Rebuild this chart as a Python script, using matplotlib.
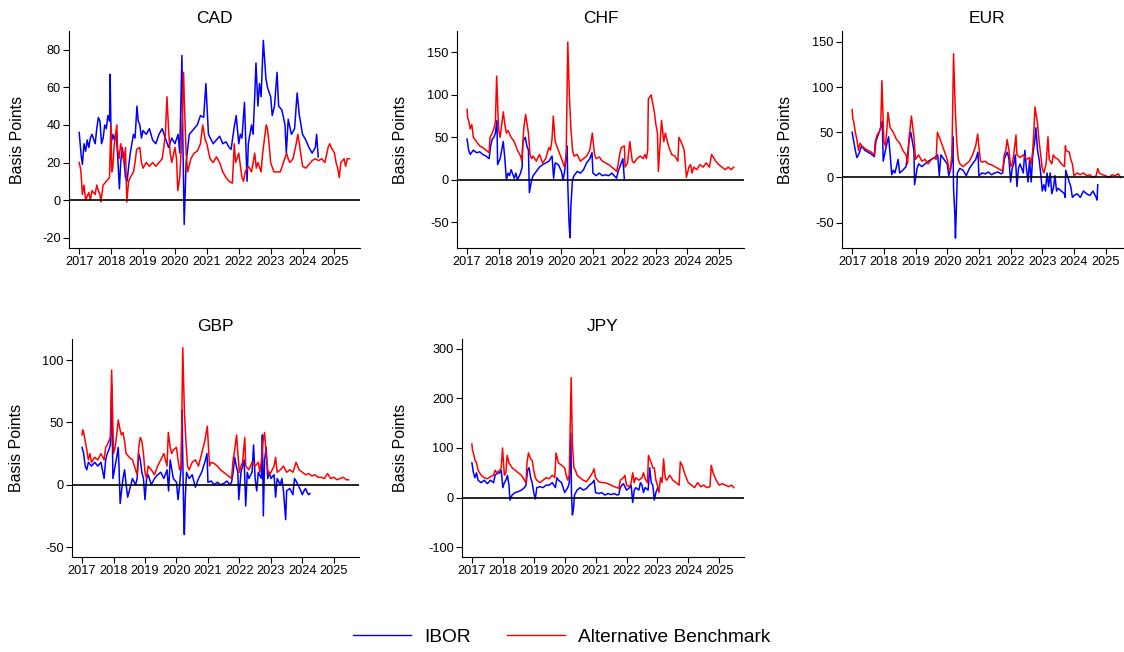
import matplotlib
matplotlib.use("Agg")
import matplotlib.pyplot as plt
from matplotlib.lines import Line2D

plt.rcParams['font.family'] = ['Liberation Sans', 'DejaVu Sans']
plt.rcParams['axes.unicode_minus'] = False

# ---------- DATA (decimal years, basis points) ----------
cad_ibor_t = [2017.0, 2017.03, 2017.06, 2017.1, 2017.15, 2017.2, 2017.25, 2017.3, 2017.35, 2017.4, 2017.5,
              2017.55, 2017.6, 2017.65, 2017.7, 2017.75, 2017.8, 2017.85, 2017.9, 2017.95, 2017.97, 2018.0,
              2018.05, 2018.1, 2018.15, 2018.2, 2018.26, 2018.3, 2018.35, 2018.4, 2018.45, 2018.5, 2018.55,
              2018.6, 2018.7, 2018.75, 2018.81, 2018.85, 2018.9, 2018.95, 2019.0, 2019.1, 2019.2, 2019.3,
              2019.4, 2019.5, 2019.6, 2019.7, 2019.8, 2019.9, 2020.0, 2020.1, 2020.15, 2020.22, 2020.25,
              2020.29, 2020.35, 2020.45, 2020.6, 2020.7, 2020.8, 2020.9, 2020.97, 2021.05, 2021.2, 2021.3,
              2021.4, 2021.5, 2021.6, 2021.7, 2021.76, 2021.85, 2021.92, 2022.0, 2022.05, 2022.1, 2022.18,
              2022.26, 2022.3, 2022.4, 2022.45, 2022.5, 2022.54, 2022.6, 2022.65, 2022.7, 2022.77, 2022.85,
              2022.9, 2023.0, 2023.05, 2023.12, 2023.2, 2023.25, 2023.35, 2023.45, 2023.49, 2023.55, 2023.65,
              2023.75, 2023.83, 2023.9, 2024.0, 2024.1, 2024.2, 2024.3, 2024.4, 2024.44, 2024.49]
cad_ibor_v = [36, 30, 24, 19, 30, 26, 32, 28, 33, 35, 30,
              38, 44, 42, 30, 33, 40, 38, 45, 42, 67, 30,
              35, 32, 36, 25, 6, 20, 28, 22, 12, 10, 18,
              25, 35, 33, 50, 42, 40, 33, 37, 35, 38, 32,
              30, 35, 38, 33, 28, 33, 30, 35, 25, 77, 30,
              -13, 20, 35, 38, 40, 45, 44, 62, 35, 30, 32,
              34, 30, 31, 28, 27, 38, 45, 30, 35, 33, 52,
              10, 30, 40, 35, 55, 73, 50, 62, 55, 85, 65,
              60, 55, 45, 50, 68, 50, 48, 40, 25, 43, 35,
              38, 57, 45, 35, 32, 28, 25, 28, 35, 23]

cad_alt_t = [2017.0, 2017.05, 2017.1, 2017.15, 2017.2, 2017.3, 2017.35, 2017.4, 2017.5, 2017.55, 2017.6,
             2017.65, 2017.68, 2017.75, 2017.85, 2017.95, 2017.99, 2018.02, 2018.05, 2018.1, 2018.18, 2018.2,
             2018.25, 2018.3, 2018.35, 2018.4, 2018.45, 2018.49, 2018.55, 2018.6, 2018.7, 2018.75, 2018.8,
             2018.9, 2018.95, 2019.0, 2019.1, 2019.2, 2019.3, 2019.4, 2019.5, 2019.6, 2019.65, 2019.7,
             2019.75, 2019.8, 2019.85, 2019.9, 2020.0, 2020.05, 2020.09, 2020.15, 2020.2, 2020.27, 2020.3,
             2020.35, 2020.4, 2020.5, 2020.6, 2020.7, 2020.8, 2020.87, 2020.95, 2021.0, 2021.1, 2021.2,
             2021.3, 2021.4, 2021.5, 2021.6, 2021.7, 2021.8, 2021.86, 2021.9, 2022.0, 2022.1, 2022.15,
             2022.2, 2022.3, 2022.4, 2022.45, 2022.5, 2022.55, 2022.6, 2022.7, 2022.75, 2022.86, 2022.9,
             2022.95, 2023.0, 2023.1, 2023.2, 2023.3, 2023.4, 2023.5, 2023.55, 2023.6, 2023.7, 2023.8,
             2023.85, 2023.9, 2024.0, 2024.1, 2024.2, 2024.3, 2024.4, 2024.5, 2024.6, 2024.7, 2024.8,
             2024.85, 2024.9, 2025.0, 2025.05, 2025.1, 2025.15, 2025.2, 2025.3, 2025.35, 2025.4, 2025.47]
cad_alt_v = [20, 16, 3, 8, 0, 4, 0, 5, 3, 8, 5,
             3, -1, 8, 10, 12, 40, 15, 17, 30, 40, 28,
             22, 30, 25, 20, 28, -1, 10, 12, 15, 20, 27,
             28, 20, 17, 20, 18, 20, 18, 20, 22, 28, 35,
             55, 38, 25, 20, 28, 22, 5, 12, 28, 68, 50,
             25, 15, 22, 25, 26, 30, 40, 32, 30, 22, 20,
             23, 20, 15, 12, 10, 9, 30, 20, 25, 12, 10,
             15, 18, 15, 20, 25, 17, 20, 15, 25, 40, 38,
             30, 20, 15, 15, 15, 20, 25, 22, 20, 22, 30,
             35, 30, 18, 17, 19, 21, 22, 21, 22, 20, 28,
             30, 28, 25, 20, 17, 12, 20, 22, 18, 22, 22]

chf_ibor_t = [2017.0, 2017.05, 2017.1, 2017.2, 2017.3, 2017.4, 2017.5, 2017.6, 2017.7, 2017.75, 2017.8,
              2017.85, 2017.9, 2017.95, 2017.97, 2018.05, 2018.1, 2018.15, 2018.2, 2018.25, 2018.3, 2018.35,
              2018.4, 2018.5, 2018.55, 2018.6, 2018.7, 2018.75, 2018.77, 2018.85, 2018.9, 2018.95, 2018.98,
              2019.05, 2019.1, 2019.2, 2019.3, 2019.4, 2019.5, 2019.6, 2019.7, 2019.75, 2019.8, 2019.9,
              2020.0, 2020.05, 2020.1, 2020.18, 2020.2, 2020.24, 2020.27, 2020.3, 2020.35, 2020.4, 2020.5,
              2020.6, 2020.7, 2020.8, 2020.9, 2020.97, 2021.0, 2021.1, 2021.2, 2021.3, 2021.4, 2021.5,
              2021.6, 2021.7, 2021.75, 2021.8, 2021.9, 2021.95, 2022.0]
chf_ibor_v = [48, 35, 30, 35, 32, 33, 30, 28, 25, 40, 48,
              50, 55, 70, 18, 25, 35, 45, 25, 0, 8, 5,
              12, 2, 8, 0, 8, 15, 45, 50, 40, 35, -15,
              0, 5, 10, 15, 18, 20, 22, 28, 2, 20, 18,
              10, 0, 10, 40, -5, -50, -68, -30, 0, 5, 10,
              8, 12, 20, 25, 32, 8, 5, 8, 5, 6, 5,
              8, 4, 2, 10, 20, 25, 0]

chf_alt_t = [2017.0, 2017.02, 2017.05, 2017.1, 2017.15, 2017.2, 2017.3, 2017.4, 2017.5, 2017.6, 2017.7,
             2017.73, 2017.8, 2017.85, 2017.9, 2017.94, 2018.0, 2018.05, 2018.1, 2018.15, 2018.2, 2018.25,
             2018.3, 2018.4, 2018.5, 2018.6, 2018.7, 2018.74, 2018.8, 2018.86, 2018.95, 2019.0, 2019.05,
             2019.1, 2019.2, 2019.3, 2019.4, 2019.5, 2019.6, 2019.65, 2019.7, 2019.74, 2019.8, 2019.85,
             2019.9, 2020.0, 2020.05, 2020.1, 2020.15, 2020.2, 2020.25, 2020.3, 2020.35, 2020.4, 2020.5,
             2020.6, 2020.7, 2020.8, 2020.9, 2020.98, 2021.05, 2021.1, 2021.2, 2021.3, 2021.4, 2021.5,
             2021.6, 2021.7, 2021.75, 2021.8, 2021.85, 2021.9, 2022.0, 2022.02, 2022.1, 2022.17, 2022.25,
             2022.3, 2022.4, 2022.5, 2022.6, 2022.65, 2022.7, 2022.74, 2022.76, 2022.85, 2022.9, 2022.95,
             2023.0, 2023.05, 2023.08, 2023.12, 2023.18, 2023.25, 2023.3, 2023.4, 2023.5, 2023.6, 2023.7,
             2023.73, 2023.8, 2023.9, 2023.97, 2024.05, 2024.1, 2024.15, 2024.2, 2024.3, 2024.4, 2024.5,
             2024.6, 2024.7, 2024.77, 2024.9, 2025.0, 2025.1, 2025.2, 2025.3, 2025.4, 2025.47]
chf_alt_v = [83, 73, 70, 60, 65, 50, 45, 40, 38, 35, 32,
             50, 55, 60, 68, 122, 60, 50, 65, 80, 65, 55,
             58, 50, 45, 35, 28, 22, 60, 77, 55, 30, 25,
             28, 22, 30, 20, 25, 38, 35, 48, 75, 45, 40,
             35, 25, 20, 15, 30, 162, 100, 60, 35, 28, 30,
             22, 25, 28, 35, 55, 30, 25, 27, 22, 20, 18,
             15, 12, 10, 18, 30, 38, 40, 15, 20, 45, 22,
             20, 25, 28, 25, 30, 25, 35, 95, 100, 90, 80,
             65, 55, 10, 35, 70, 45, 55, 40, 30, 28, 22,
             50, 45, 35, 3, 15, 18, 8, 15, 12, 18, 15,
             20, 15, 30, 22, 18, 15, 12, 15, 12, 15]

eur_ibor_t = [2017.0, 2017.05, 2017.1, 2017.15, 2017.2, 2017.3, 2017.4, 2017.5, 2017.6, 2017.7, 2017.75,
              2017.8, 2017.85, 2017.9, 2017.95, 2017.98, 2018.05, 2018.1, 2018.15, 2018.2, 2018.25, 2018.3,
              2018.35, 2018.4, 2018.45, 2018.5, 2018.6, 2018.7, 2018.75, 2018.8, 2018.85, 2018.9, 2018.95,
              2018.97, 2019.05, 2019.1, 2019.2, 2019.3, 2019.4, 2019.5, 2019.6, 2019.7, 2019.75, 2019.8,
              2019.9, 2020.0, 2020.05, 2020.1, 2020.15, 2020.18, 2020.2, 2020.24, 2020.26, 2020.28, 2020.32,
              2020.4, 2020.5, 2020.6, 2020.7, 2020.8, 2020.9, 2020.97, 2021.0, 2021.1, 2021.2, 2021.3,
              2021.4, 2021.5, 2021.6, 2021.7, 2021.75, 2021.8, 2021.85, 2021.9, 2021.95, 2022.0, 2022.05,
              2022.1, 2022.15, 2022.2, 2022.25, 2022.3, 2022.4, 2022.45, 2022.5, 2022.55, 2022.6, 2022.65,
              2022.7, 2022.76, 2022.8, 2022.85, 2022.9, 2022.95, 2023.0, 2023.05, 2023.1, 2023.15, 2023.2,
              2023.25, 2023.3, 2023.35, 2023.4, 2023.45, 2023.5, 2023.6, 2023.7, 2023.72, 2023.74, 2023.85,
              2023.9, 2023.95, 2024.0, 2024.1, 2024.2, 2024.3, 2024.4, 2024.5, 2024.6, 2024.7, 2024.73,
              2024.75]
eur_ibor_v = [50, 40, 30, 22, 25, 35, 30, 28, 26, 23, 40,
              45, 50, 55, 62, 18, 30, 38, 45, 25, 3, 8,
              5, 12, 20, 5, 8, 12, 25, 42, 50, 40, 30,
              -8, 10, 15, 12, 15, 18, 20, 22, 25, 2, 25,
              20, 15, 2, 8, 20, 45, -12, -40, -67, -45, 5,
              10, 8, 2, 10, 15, 20, 28, 2, 5, 4, 6,
              3, 5, 6, 4, 5, 20, 25, 28, 20, -5, 10,
              15, 25, -10, 10, 15, 5, 30, 10, -5, 20, -5,
              25, 40, 55, 30, 20, 5, -15, -8, -15, 5, -10,
              5, -18, -12, 2, -15, -12, -15, -18, -22, 8, -5,
              -10, -22, -20, -18, -22, -15, -18, -20, -15, -22, -25,
              -8]

eur_alt_t = [2017.0, 2017.02, 2017.05, 2017.1, 2017.15, 2017.2, 2017.25, 2017.3, 2017.4, 2017.5, 2017.6,
             2017.7, 2017.73, 2017.8, 2017.85, 2017.9, 2017.94, 2018.0, 2018.05, 2018.1, 2018.13, 2018.2,
             2018.3, 2018.4, 2018.5, 2018.6, 2018.7, 2018.75, 2018.8, 2018.87, 2018.95, 2019.0, 2019.1,
             2019.2, 2019.3, 2019.4, 2019.5, 2019.6, 2019.65, 2019.69, 2019.8, 2019.85, 2019.9, 2020.0,
             2020.05, 2020.1, 2020.15, 2020.2, 2020.25, 2020.3, 2020.35, 2020.4, 2020.5, 2020.6, 2020.7,
             2020.8, 2020.9, 2020.96, 2021.05, 2021.1, 2021.2, 2021.3, 2021.4, 2021.5, 2021.6, 2021.7,
             2021.75, 2021.8, 2021.85, 2021.89, 2021.95, 2022.0, 2022.05, 2022.1, 2022.17, 2022.2, 2022.3,
             2022.4, 2022.5, 2022.6, 2022.65, 2022.7, 2022.74, 2022.77, 2022.85, 2022.9, 2022.95, 2023.0,
             2023.05, 2023.12, 2023.18, 2023.22, 2023.3, 2023.35, 2023.4, 2023.5, 2023.6, 2023.7, 2023.73,
             2023.75, 2023.85, 2023.9, 2023.95, 2024.0, 2024.1, 2024.2, 2024.3, 2024.4, 2024.5, 2024.6,
             2024.7, 2024.75, 2024.8, 2024.9, 2025.0, 2025.1, 2025.2, 2025.3, 2025.4, 2025.47]
eur_alt_v = [75, 65, 62, 50, 42, 30, 38, 35, 32, 30, 28,
             25, 40, 48, 50, 55, 107, 40, 35, 55, 72, 55,
             50, 42, 38, 30, 25, 15, 45, 68, 45, 20, 25,
             18, 20, 15, 20, 22, 20, 50, 40, 35, 30, 20,
             10, 8, 25, 137, 80, 40, 20, 15, 12, 15, 18,
             25, 35, 48, 18, 17, 18, 15, 14, 12, 10, 8,
             7, 25, 30, 42, 30, 12, 15, 25, 47, 25, 22,
             25, 20, 22, 15, 30, 55, 78, 60, 40, 25, 10,
             5, 15, 45, 20, 15, 25, 22, 20, 15, 12, 35,
             30, 28, 20, 15, 2, 5, 3, 5, 2, 3, 0,
             2, 10, 5, 3, 2, 0, 3, 2, 4, 0]

gbp_ibor_t = [2017.0, 2017.05, 2017.1, 2017.15, 2017.2, 2017.3, 2017.4, 2017.5, 2017.6, 2017.7, 2017.75,
              2017.8, 2017.85, 2017.9, 2017.94, 2017.98, 2018.05, 2018.1, 2018.15, 2018.18, 2018.21, 2018.3,
              2018.35, 2018.4, 2018.45, 2018.5, 2018.6, 2018.7, 2018.75, 2018.8, 2018.85, 2018.9, 2018.95,
              2019.0, 2019.05, 2019.1, 2019.2, 2019.3, 2019.4, 2019.5, 2019.6, 2019.7, 2019.75, 2019.8,
              2019.9, 2020.0, 2020.05, 2020.1, 2020.15, 2020.18, 2020.2, 2020.23, 2020.25, 2020.28, 2020.32,
              2020.4, 2020.5, 2020.6, 2020.7, 2020.8, 2020.9, 2020.97, 2021.0, 2021.1, 2021.2, 2021.3,
              2021.4, 2021.5, 2021.6, 2021.7, 2021.75, 2021.8, 2021.85, 2021.9, 2021.95, 2021.98, 2022.05,
              2022.1, 2022.15, 2022.2, 2022.25, 2022.3, 2022.4, 2022.45, 2022.5, 2022.55, 2022.6, 2022.7,
              2022.73, 2022.76, 2022.8, 2022.85, 2022.9, 2022.95, 2023.0, 2023.1, 2023.15, 2023.2, 2023.3,
              2023.35, 2023.4, 2023.47, 2023.5, 2023.6, 2023.7, 2023.75, 2023.8, 2023.9, 2024.0, 2024.05,
              2024.1, 2024.15, 2024.2, 2024.24]
gbp_ibor_v = [30, 25, 15, 12, 18, 15, 18, 15, 18, 5, 20,
              25, 28, 32, 80, 5, 15, 22, 30, 10, -15, 5,
              12, 0, -10, -5, 5, 0, 5, 25, 20, 10, 5,
              -12, 5, 8, 0, 5, 8, 10, 5, 12, -5, 20,
              5, 2, -12, 0, 15, 60, 20, -25, -40, -10, 10,
              5, 8, -2, 5, 10, 18, 25, 2, 3, 0, 2,
              0, 1, 3, 0, 2, 10, 22, 15, 10, -12, 10,
              15, 20, -17, 10, 5, 10, 32, 5, -5, 10, 5,
              40, -25, 20, 30, 5, 10, 5, 8, -10, 5, 0,
              5, -5, -28, -5, -3, -8, 5, 3, -2, -8, -5,
              -3, -6, -8, -7]

gbp_alt_t = [2017.0, 2017.02, 2017.05, 2017.1, 2017.15, 2017.2, 2017.25, 2017.3, 2017.4, 2017.5, 2017.6,
             2017.7, 2017.75, 2017.8, 2017.85, 2017.9, 2017.94, 2018.0, 2018.05, 2018.1, 2018.15, 2018.2,
             2018.25, 2018.3, 2018.35, 2018.4, 2018.5, 2018.6, 2018.7, 2018.75, 2018.8, 2018.85, 2018.9,
             2018.95, 2019.0, 2019.05, 2019.1, 2019.2, 2019.3, 2019.4, 2019.5, 2019.6, 2019.7, 2019.74,
             2019.8, 2019.85, 2019.9, 2020.0, 2020.05, 2020.1, 2020.15, 2020.2, 2020.25, 2020.3, 2020.35,
             2020.4, 2020.5, 2020.6, 2020.7, 2020.8, 2020.9, 2020.98, 2021.05, 2021.1, 2021.2, 2021.3,
             2021.4, 2021.5, 2021.6, 2021.7, 2021.75, 2021.8, 2021.85, 2021.91, 2021.95, 2022.0, 2022.05,
             2022.1, 2022.17, 2022.2, 2022.3, 2022.4, 2022.5, 2022.6, 2022.65, 2022.7, 2022.75, 2022.8,
             2022.85, 2022.9, 2022.95, 2023.0, 2023.1, 2023.15, 2023.2, 2023.3, 2023.4, 2023.5, 2023.6,
             2023.7, 2023.8, 2023.85, 2023.9, 2024.0, 2024.1, 2024.2, 2024.3, 2024.4, 2024.5, 2024.6,
             2024.7, 2024.8, 2024.9, 2025.0, 2025.1, 2025.2, 2025.3, 2025.4, 2025.47]
gbp_alt_v = [40, 44, 42, 35, 28, 20, 25, 18, 22, 20, 25,
             20, 30, 32, 35, 38, 92, 25, 30, 40, 52, 45,
             40, 42, 35, 25, 22, 20, 12, 8, 30, 38, 35,
             25, 10, 5, 15, 12, 8, 15, 20, 25, 15, 42,
             30, 25, 28, 30, 20, 12, 15, 110, 60, 35, 15,
             12, 18, 20, 15, 25, 35, 47, 15, 18, 17, 15,
             12, 10, 8, 6, 5, 20, 28, 40, 25, 10, 15,
             18, 38, 15, 12, 18, 15, 18, 10, 20, 35, 42,
             25, 12, 8, 10, 15, 22, 10, 12, 15, 10, 12,
             10, 18, 15, 12, 10, 8, 9, 7, 8, 6, 6,
             5, 9, 5, 6, 4, 5, 6, 4, 4]

jpy_ibor_t = [2017.0, 2017.05, 2017.1, 2017.15, 2017.2, 2017.3, 2017.4, 2017.5, 2017.6, 2017.7, 2017.75,
              2017.8, 2017.9, 2017.95, 2018.0, 2018.05, 2018.1, 2018.15, 2018.2, 2018.23, 2018.3, 2018.4,
              2018.5, 2018.6, 2018.7, 2018.75, 2018.8, 2018.85, 2018.9, 2018.95, 2019.0, 2019.05, 2019.1,
              2019.2, 2019.3, 2019.4, 2019.5, 2019.6, 2019.7, 2019.75, 2019.8, 2019.9, 2020.0, 2020.05,
              2020.1, 2020.15, 2020.2, 2020.22, 2020.25, 2020.28, 2020.32, 2020.4, 2020.5, 2020.6, 2020.7,
              2020.8, 2020.9, 2020.95, 2021.0, 2021.1, 2021.2, 2021.3, 2021.4, 2021.5, 2021.6, 2021.7,
              2021.75, 2021.8, 2021.85, 2021.9, 2022.0, 2022.1, 2022.15, 2022.2, 2022.25, 2022.3, 2022.4,
              2022.45, 2022.5, 2022.55, 2022.6, 2022.7, 2022.75, 2022.8, 2022.85, 2022.9, 2022.95, 2023.01]
jpy_ibor_v = [70, 50, 40, 50, 35, 30, 35, 28, 35, 30, 45,
              48, 50, 55, 20, 30, 35, 45, 25, -5, 5, 10,
              12, 15, 20, 25, 55, 60, 40, 30, 10, -3, 20,
              22, 20, 25, 25, 30, 20, 40, 35, 30, 10, 15,
              20, 30, 130, 10, -35, -25, 5, 15, 20, 15, 18,
              25, 30, 35, 10, 8, 10, 5, 8, 6, 8, 5,
              6, 20, 25, 28, 15, 20, 25, -10, 15, 20, 15,
              30, 25, 10, 20, 15, 60, 30, 25, -5, 10, 20]

jpy_alt_t = [2017.0, 2017.02, 2017.05, 2017.1, 2017.15, 2017.2, 2017.3, 2017.4, 2017.5, 2017.6, 2017.7,
             2017.75, 2017.8, 2017.9, 2017.95, 2017.99, 2018.05, 2018.1, 2018.14, 2018.2, 2018.25, 2018.3,
             2018.4, 2018.5, 2018.6, 2018.7, 2018.75, 2018.78, 2018.83, 2018.9, 2018.95, 2019.0, 2019.05,
             2019.1, 2019.2, 2019.3, 2019.4, 2019.5, 2019.6, 2019.68, 2019.72, 2019.8, 2019.9, 2020.0,
             2020.05, 2020.1, 2020.15, 2020.21, 2020.25, 2020.3, 2020.35, 2020.4, 2020.5, 2020.6, 2020.7,
             2020.8, 2020.9, 2020.95, 2021.0, 2021.1, 2021.2, 2021.3, 2021.4, 2021.5, 2021.6, 2021.7,
             2021.75, 2021.8, 2021.9, 2021.95, 2022.0, 2022.1, 2022.15, 2022.2, 2022.25, 2022.3, 2022.4,
             2022.5, 2022.55, 2022.6, 2022.68, 2022.71, 2022.8, 2022.85, 2022.9, 2022.95, 2023.0, 2023.05,
             2023.1, 2023.15, 2023.2, 2023.25, 2023.3, 2023.4, 2023.5, 2023.6, 2023.7, 2023.74, 2023.8,
             2023.85, 2023.9, 2024.0, 2024.1, 2024.2, 2024.3, 2024.4, 2024.5, 2024.6, 2024.7, 2024.74,
             2024.8, 2024.9, 2025.0, 2025.1, 2025.2, 2025.3, 2025.4, 2025.47]
jpy_alt_v = [108, 95, 90, 75, 70, 55, 45, 40, 38, 42, 45,
             55, 50, 55, 60, 100, 45, 50, 85, 70, 65, 60,
             55, 50, 45, 35, 30, 70, 90, 78, 75, 55, 40,
             35, 30, 35, 40, 38, 45, 40, 90, 70, 65, 60,
             45, 35, 45, 242, 110, 60, 55, 45, 40, 35, 32,
             40, 50, 58, 40, 32, 30, 30, 28, 25, 22, 20,
             18, 35, 40, 45, 25, 22, 30, 50, 30, 40, 35,
             40, 50, 38, 30, 85, 70, 60, 60, 35, 25, 10,
             40, 30, 78, 40, 35, 45, 35, 30, 25, 72, 65,
             55, 45, 30, 25, 20, 30, 22, 25, 20, 22, 65,
             50, 35, 25, 28, 25, 22, 25, 20]

panels = [
    ("CAD", cad_ibor_t, cad_ibor_v, cad_alt_t, cad_alt_v, (-25.5, 90), [-20, 0, 20, 40, 60, 80]),
    ("CHF", chf_ibor_t, chf_ibor_v, chf_alt_t, chf_alt_v, (-80, 175), [-50, 0, 50, 100, 150]),
    ("EUR", eur_ibor_t, eur_ibor_v, eur_alt_t, eur_alt_v, (-78, 162), [-50, 0, 50, 100, 150]),
    ("GBP", gbp_ibor_t, gbp_ibor_v, gbp_alt_t, gbp_alt_v, (-58, 117), [-50, 0, 50, 100]),
    ("JPY", jpy_ibor_t, jpy_ibor_v, jpy_alt_t, jpy_alt_v, (-120, 320), [-100, 0, 100, 200, 300]),
]
years = list(range(2017, 2026))

# axes boxes in pixels: left, right, top, bottom ; ylabel right edge (px)
W, H = 1124, 652
boxes = [(69, 360, 31, 248, 25), (457, 744, 31, 248, 408), (842, 1131, 31, 248, 793),
         (72, 359, 339, 557, 24), (462, 744, 339, 557, 408)]

fig = plt.figure(figsize=(W / 100, H / 100), dpi=100)

for (name, it, iv, at, av, ylim, yt), (l, r, t, b, lab) in zip(panels, boxes):
    ax = fig.add_axes([l / W, 1 - b / H, (r - l) / W, (b - t) / H])
    ax.plot(it, iv, color="#0000ff", lw=1.1)
    ax.plot(at, av, color="#ff0000", lw=1.1)
    ax.axhline(0, color="black", lw=1.2)
    ax.set_xlim(2016.68, 2025.8)
    ax.set_ylim(*ylim)
    ax.set_xticks(years)
    ax.set_yticks(yt)
    ax.tick_params(labelsize=9.2, length=4, width=0.8, direction="out", pad=2)
    ax.spines["top"].set_visible(False)
    ax.spines["right"].set_visible(False)
    ax.set_title(name, fontsize=12.5, pad=6)
    ax.set_ylabel("Basis Points", fontsize=11.5)
    ax.yaxis.set_label_coords((lab - l) / (r - l), 0.5)

handles = [Line2D([], [], color="#0000ff", lw=1.0), Line2D([], [], color="#ff0000", lw=1.0)]
fig.legend(handles, ["IBOR", "Alternative Benchmark"], loc="center", bbox_to_anchor=(0.5, 1 - 637 / H),
           ncol=2, frameon=False, fontsize=13.8, handlelength=3.0, handletextpad=0.7, columnspacing=1.9)

fig.savefig("out.png", dpi=100)
